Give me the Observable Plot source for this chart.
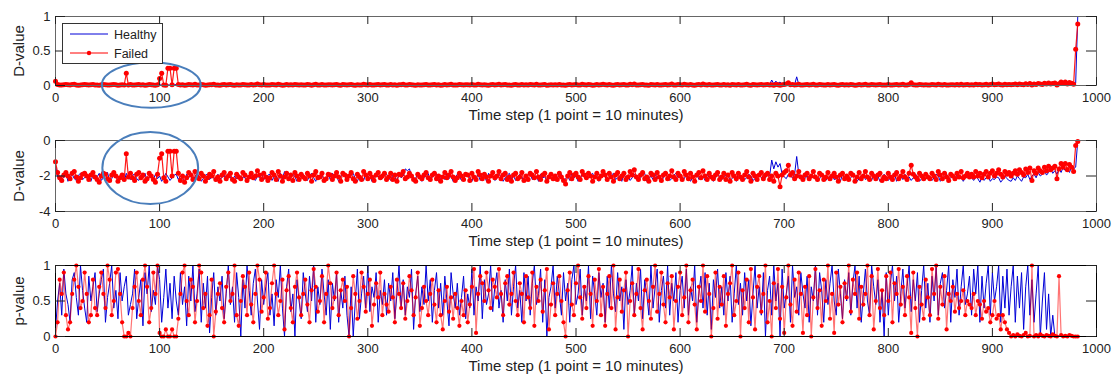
<!DOCTYPE html>
<html><head><meta charset="utf-8">
<script src="https://cdn.jsdelivr.net/npm/d3@7"></script>
<script src="https://cdn.jsdelivr.net/npm/@observablehq/plot@0.6"></script>
<style>
body{margin:0;background:#fff;}
#chart{position:relative;width:1117px;height:378px;font-family:"Liberation Sans",Arial,sans-serif;}
#chart > div{position:absolute;left:0;}
</style></head><body><div id="chart"></div>
<script>
// ---- data (time steps sampled every 2 points) ----
const timeStep = d3.range(0, 983, 2);
const xTicks = [0,100,200,300,400,500,600,700,800,900,1000];
const dTicks = [0,0.5,1];
const logTicks = [-4,-2,0];
const pTicks = [0,0.5,1];
const seriesNames = ["Healthy","Failed"];
const xTitle = "Time step (1 point = 10 minutes)";

// log10 D-value, healthy drive
const healthyLogD = [
-1.4,-2.05,-2.25,-1.95,-2.1,-1.85,-2.3,-2.05,-1.9,-2.15,-2.25,-1.95,-1.85,-2.2,-2.1,-1.9,-2.05,-2.3,-1.95,-2.15,
-2.05,-1.85,-2.25,-2.1,-1.95,-1.8,-2.3,-2.15,-1.9,-2.0,-2.25,-2.05,-1.95,-2.3,-1.85,-2.1,-2.2,-1.95,-1.9,-2.15,
-2.25,-1.95,-2.1,-1.85,-2.3,-2.05,-1.95,-2.2,-1.9,-2.15,-2.0,-2.3,-2.1,-1.85,-2.05,-2.25,-2.1,-1.95,-1.9,-2.2,
-2.0,-2.15,-2.3,-1.9,-2.1,-1.95,-2.25,-2.05,-1.85,-2.0,-2.3,-2.15,-1.95,-1.9,-2.2,-2.05,-2.1,-2.3,-1.9,-2.15,
-2.1,-1.95,-2.25,-1.85,-2.05,-2.3,-2.0,-2.15,-1.9,-2.25,-2.05,-2.1,-2.35,-1.95,-1.9,-2.15,-2.25,-2.0,-2.1,-1.85,
-2.2,-2.1,-1.95,-1.9,-2.25,-2.05,-2.0,-2.3,-1.85,-2.15,-1.75,-2.0,-2.25,-2.1,-1.9,-2.05,-2.3,-2.15,-1.95,-1.9,
-2.15,-2.25,-2.0,-1.85,-2.1,-2.3,-1.95,-2.05,-1.9,-2.25,-2.15,-1.95,-2.2,-1.85,-2.1,-2.0,-2.3,-2.05,-1.9,-2.0,
-2.25,-2.1,-1.95,-1.85,-2.15,-2.3,-2.0,-2.1,-2.25,-1.9,-2.05,-1.95,-2.3,-2.1,-1.85,-2.0,-2.2,-2.15,-1.95,-1.9,
-2.1,-2.25,-1.95,-2.05,-2.3,-1.85,-2.1,-2.0,-1.6,-1.7,-1.6,-2.0,-2.25,-2.1,-1.9,-2.05,-2.3,-2.1,-1.95,-1.85,
-2.25,-2.05,-1.95,-1.9,-2.3,-2.1,-2.0,-2.2,-1.85,-2.15,-2.0,-2.3,-2.1,-1.9,-2.05,-2.25,-2.15,-1.95,-1.85,-2.1,
-2.3,-2.0,-2.15,-1.9,-2.25,-2.05,-1.95,-2.3,-1.85,-2.1,-2.0,-2.25,-2.15,-1.9,-2.05,-2.3,-2.1,-1.95,-1.85,-2.15,
-2.0,-2.25,-2.1,-1.9,-2.05,-2.3,-2.15,-1.95,-1.85,-2.2,-2.1,-2.0,-2.3,-1.9,-2.1,-2.05,-2.25,-2.15,-1.9,-2.0,
-2.25,-2.1,-1.95,-1.9,-2.3,-2.15,-2.0,-2.25,-1.85,-2.1,-2.0,-2.3,-2.15,-1.9,-2.05,-2.2,-2.1,-1.95,-1.85,-2.15,
-2.0,-2.3,-2.1,-1.9,-2.05,-2.25,-2.15,-1.95,-1.85,-2.2,-2.1,-2.0,-2.3,-1.9,-2.1,-2.05,-2.25,-2.1,-1.9,-2.0,
-2.25,-2.1,-1.95,-1.85,-2.3,-2.1,-2.0,-2.2,-1.9,-2.15,-2.05,-2.3,-2.1,-1.9,-2.0,-2.25,-2.15,-1.95,-1.85,-2.1,
-2.0,-2.25,-2.15,-1.9,-2.05,-2.3,-2.1,-1.95,-1.85,-2.2,-2.1,-2.0,-2.25,-1.9,-2.1,-2.05,-2.3,-2.1,-1.9,-2.0,
-2.2,-2.1,-1.95,-1.9,-2.25,-2.15,-2.0,-2.3,-1.85,-2.1,-2.05,-2.2,-2.1,-1.9,-2.0,-2.25,-2.15,-1.95,-1.9,-2.1,
-2.0,-2.1,-1.9,-2.0,-1.1,-1.6,-1.2,-1.5,-1.3,-1.9,-2.05,-2.15,-1.9,-2.0,-2.1,-1.9,-0.9,-1.9,-2.1,-2.05,
-2.15,-2.0,-2.25,-1.9,-2.1,-2.05,-2.3,-2.15,-1.9,-2.0,-2.25,-2.1,-2.0,-1.9,-2.2,-2.15,-2.0,-2.3,-1.9,-2.1,
-2.0,-2.25,-2.1,-1.9,-2.05,-2.3,-2.15,-2.0,-1.9,-2.2,-2.1,-2.05,-2.25,-1.9,-2.1,-2.0,-2.3,-2.1,-1.9,-2.05,
-2.25,-2.1,-2.0,-1.9,-2.3,-2.15,-2.0,-2.2,-1.9,-2.1,-2.05,-2.25,-2.1,-1.9,-2.0,-2.3,-2.15,-2.0,-1.9,-2.1,
-2.05,-2.25,-2.1,-1.9,-2.0,-2.3,-2.15,-2.05,-1.9,-2.2,-2.1,-2.0,-2.25,-1.9,-2.1,-2.05,-2.3,-2.1,-1.95,-2.05,
-2.1,-2.25,-2.05,-2.15,-2.35,-2.05,-2.25,-2.1,-2.0,-2.3,-2.15,-2.2,-2.05,-2.1,-2.35,-2.2,-2.0,-2.15,-2.25,-2.3,
-2.1,-2.25,-2.0,-2.15,-2.3,-2.05,-2.1,-1.9,-2.2,-2.0,-1.9,-2.1,-1.8,-2.0,-1.9,-1.7,-1.95,-1.8,-1.6,-1.85,
-1.7,-1.9,-1.6,-1.8,-1.5,-1.7,-1.6,-1.8,-1.5,-1.6,-1.5,0
];

// log10 D-value, failed drive
const failedLogD = [
-1.2,-1.8,-2.1,-2.25,-1.95,-1.8,-2.0,-2.15,-1.85,-1.75,-2.05,-2.3,-2.1,-1.9,-1.85,-2.0,-2.2,-1.95,-1.8,-2.05,
-2.2,-2.35,-2.0,-1.85,-1.9,-2.15,-2.25,-1.95,-1.8,-2.0,-2.3,-2.1,-1.95,-2.2,-0.75,-2.05,-1.85,-2.1,-2.25,-1.9,
-1.8,-2.1,-1.95,-2.3,-2.15,-1.85,-2.0,-2.2,-2.35,-1.9,-1.0,-0.75,-2.1,-2.3,-0.6,-0.6,-2.0,-0.6,-0.6,-1.85,
-2.25,-2.0,-2.35,-2.1,-1.8,-1.95,-2.2,-1.75,-2.05,-2.15,-1.85,-2.0,-2.3,-2.1,-1.9,-2.0,-1.75,-2.2,-2.05,-2.3,
-1.95,-1.8,-2.15,-2.0,-1.85,-2.2,-2.3,-1.9,-2.05,-2.15,-1.8,-1.95,-2.25,-2.05,-1.85,-2.1,-2.0,-1.7,-1.95,-2.2,
-1.85,-2.05,-2.25,-2.1,-1.8,-1.95,-2.2,-1.75,-2.0,-2.3,-2.05,-1.85,-2.15,-1.95,-2.25,-1.8,-2.0,-2.2,-1.9,-2.05,
-2.15,-1.85,-2.0,-2.3,-1.95,-1.75,-2.1,-2.05,-1.85,-2.25,-2.15,-1.9,-1.95,-2.2,-2.0,-1.8,-2.05,-2.3,-1.85,-1.95,
-2.2,-2.0,-1.8,-2.15,-2.3,-1.9,-2.05,-2.2,-1.75,-1.95,-2.15,-1.85,-2.05,-2.25,-1.95,-1.8,-2.1,-2.0,-1.85,-2.2,
-2.05,-1.85,-2.2,-1.95,-2.3,-1.9,-1.95,-1.75,-2.15,-2.05,-1.85,-2.0,-2.2,-2.3,-1.9,-2.05,-2.15,-1.95,-1.8,-2.1,
-2.2,-1.95,-1.85,-2.15,-2.0,-2.3,-2.05,-1.8,-2.1,-1.95,-1.75,-2.05,-2.25,-2.1,-1.85,-2.0,-2.2,-1.9,-1.95,-2.25,
-1.85,-2.05,-2.2,-1.75,-1.95,-2.15,-1.9,-2.05,-2.3,-2.0,-1.8,-2.1,-2.0,-1.75,-2.15,-1.95,-1.85,-2.2,-2.05,-2.3,
-1.95,-1.85,-2.15,-2.05,-1.8,-2.25,-2.0,-2.2,-1.85,-1.95,-2.1,-1.75,-2.05,-2.2,-1.95,-1.85,-2.3,-2.05,-1.9,-2.15,
-2.0,-2.2,-1.85,-2.05,-2.25,-2.45,-2.0,-1.8,-2.15,-1.95,-1.85,-2.05,-2.2,-1.75,-1.95,-2.1,-1.85,-2.0,-2.3,-2.05,
-1.85,-2.15,-2.0,-1.75,-1.95,-2.2,-1.85,-2.05,-2.3,-1.95,-1.8,-2.15,-2.0,-1.85,-2.2,-2.05,-1.75,-1.95,-1.65,-2.05,
-2.2,-1.95,-1.8,-2.15,-2.05,-2.3,-1.85,-1.95,-2.2,-1.8,-2.05,-2.25,-1.95,-1.85,-2.15,-2.0,-1.7,-2.05,-2.2,-1.85,
-2.0,-2.2,-1.75,-1.95,-2.15,-1.85,-2.05,-2.3,-1.95,-1.8,-2.1,-1.7,-2.0,-2.2,-1.85,-2.05,-2.15,-1.95,-1.8,-2.2,
-2.05,-1.85,-2.2,-1.95,-2.3,-1.8,-2.0,-2.15,-1.85,-2.05,-2.2,-1.95,-1.75,-2.05,-2.3,-1.85,-2.0,-2.2,-1.95,-1.8,
-2.15,-1.95,-1.85,-2.2,-2.0,-2.3,-1.85,-2.0,-2.6,-1.95,-1.8,-1.7,-1.4,-1.95,-1.8,-2.15,-2.0,-1.75,-2.05,-2.2,
-1.95,-1.85,-2.15,-2.0,-1.75,-2.05,-2.2,-1.85,-1.95,-2.2,-2.05,-1.8,-2.15,-2.0,-1.85,-2.05,-2.3,-1.95,-1.85,-2.15,
-2.0,-2.2,-1.85,-1.95,-2.3,-2.05,-1.8,-2.15,-2.0,-1.75,-2.05,-2.2,-1.85,-2.0,-2.15,-1.95,-1.85,-2.25,-2.05,-2.15,
-1.85,-2.05,-2.2,-1.95,-1.8,-2.15,-2.0,-1.75,-2.05,-2.2,-1.85,-1.4,-1.9,-2.05,-2.2,-1.85,-2.0,-2.15,-1.9,-2.05,
-2.15,-1.85,-2.0,-2.2,-1.75,-1.95,-2.15,-1.85,-2.05,-2.25,-1.9,-2.0,-2.15,-1.85,-2.05,-1.75,-2.1,-2.0,-1.85,-2.05,
-1.9,-2.05,-1.75,-2.0,-1.85,-2.1,-1.9,-1.75,-2.05,-1.85,-1.7,-2.0,-1.85,-1.65,-1.9,-2.05,-1.75,-1.9,-1.8,-2.0,
-1.85,-1.7,-1.9,-1.65,-1.8,-1.95,-1.6,-1.8,-1.55,-2.25,-1.7,-1.85,-1.55,-1.7,-1.8,-1.5,-1.7,-1.45,-1.65,-1.55,
-1.45,-2.15,-1.6,-1.3,-1.5,-1.3,-1.65,-1.35,-1.5,-1.75,-0.28,-0.05
];

// p-value, healthy drive
const healthyP = [
.1,.5,.75,.3,.95,.6,.45,.2,.8,.9,.55,.3,1,.65,.4,.2,.85,.5,.7,.9,
.35,.6,.8,.95,.2,.55,.75,1,.4,.65,.25,.9,.5,.7,.85,.3,.45,.6,.95,.25,
.55,.8,.15,.9,.6,1,.35,.65,.45,1,.8,.2,.55,.95,.4,.75,.25,.85,.5,.3,
.9,.45,.7,.15,.85,.5,1,.35,.6,.95,.2,.75,.4,.85,.05,.55,.9,.3,.7,.5,
.85,.25,.6,1,.45,.7,.2,.9,.55,0,.8,.4,1,.65,.3,.75,.95,.5,.1,.8,
.45,.7,.9,.3,.6,.15,.8,.55,1,.4,0,.7,.95,.35,.6,0,.8,.5,.25,.9,
.6,.35,.85,.5,1,.2,.7,.45,.95,.6,.3,.8,.1,.75,.5,.9,.2,.65,.4,.85,
.3,0,.7,0,.5,.95,.25,.6,.85,.4,1,.35,.7,.55,.9,.2,.65,.45,.8,.3,
.75,.5,.9,.25,.6,1,.4,.8,.3,.7,.55,.95,.1,.6,.85,.35,.7,.45,1,.5,
.8,.2,.65,.9,.4,.75,.3,.85,.5,.15,.9,.6,.4,.75,.3,.55,.85,.25,.6,.4,
.95,.3,.7,.5,1,.25,.8,.45,.6,1,.35,.7,.9,.4,.65,.2,.8,.5,.95,.3,
.7,1,.4,.65,.2,.9,.5,.85,.3,.75,1,.45,.6,.95,.2,.8,0,.55,.7,1,
.4,.85,.6,.3,.9,.5,.75,.2,.8,1,.45,.6,.95,.3,.7,.5,1,.25,.85,.6,
.3,.9,.55,.75,.2,.85,.4,1,.6,.35,.9,.5,.7,.1,.8,.45,.65,1,.3,.75,
.5,.95,.25,.8,.6,.3,1,.4,.7,.95,.2,.65,.85,.4,1,.3,.75,.5,.9,.2,
.65,.85,.4,.95,.3,.7,.5,1,.2,.6,.85,.4,.9,.3,.75,.1,.8,.55,.95,.4,
.7,.3,.9,.5,.85,.2,.6,1,.45,.75,.3,.9,.5,.8,.15,.6,1,.4,.7,.3,
.9,0,.65,.85,.3,1,.5,.75,0,.95,.4,.6,.85,.2,1,.55,.7,.3,.9,.6,
.4,.85,.2,.7,.5,1,.3,.9,.65,.2,.8,.45,.75,1,.5,.3,.95,.6,.25,.8,
.5,.9,.3,.75,1,.4,.85,.2,.6,.95,.5,.3,1,.7,.45,.8,.2,.65,0,.9,
.3,.75,1,.5,.85,.2,.6,.95,.4,.7,1,.35,.8,.5,.9,.2,.65,1,.4,.75,
.2,.85,.5,1,.3,.75,.9,.4,.65,1,.2,.8,.55,.95,.3,.7,1,.45,.6,.85,
.3,.95,.6,1,.2,.85,.4,.75,1,.3,.9,.5,.7,1,.2,.85,.4,.95,.3,.7,
1,.2,.85,.4,.9,.1,.7,1,.3,.8,.2,.6,1,0,.5,.9,.1,.6,0,.3,
0,0,.01,0,0,0,.01,0,0,0,0,0
];

// p-value, failed drive
const failedP = [
0,.2,.8,.6,.9,.3,.1,.2,.6,.8,1,.7,.4,.5,.9,.6,.2,.3,.8,.4,
.3,.7,.9,.6,.4,1,.8,.3,.5,.9,.95,.6,.2,0,0,.05,0,.4,.7,.9,
.5,.3,.8,1,.7,.2,.4,.9,.6,1,.05,0,0,.1,0,0,.1,0,0,.25,
.6,.9,1,.5,.3,.8,.7,.2,.5,1,.9,.4,.6,.15,.3,.8,0,.35,.6,.75,
.4,.2,.7,.9,.5,.6,1,.3,.15,.5,.85,.7,.3,.9,.45,.2,.6,1,.8,.35,
.55,.9,.25,.4,.75,1,.6,.3,.5,.8,.1,.65,.85,.4,.2,.7,.9,.55,.3,.6,
.8,.45,.2,.65,.95,.7,.35,.5,.85,.2,.6,1,.75,.4,.55,.9,.3,.65,.8,.5,
.7,0,.4,.85,.6,.25,.5,.9,.7,.35,.6,.8,.15,.45,.75,.55,.9,.3,.6,.45,
.35,.7,.55,.2,.8,.6,.4,.75,.25,.5,.85,.65,.3,.55,.9,.15,.4,.7,.5,.3,
.6,.8,.45,.2,.65,.3,.1,.5,.7,.35,.55,.25,.6,.4,.15,.5,.3,.65,.2,.45,
.7,.95,.05,.6,.85,.75,.5,.9,.65,.4,.8,.7,.55,.95,.6,.3,.75,.85,.45,.6,
.9,.5,.3,.75,.6,.2,.85,.55,.4,.9,.15,.7,.5,.8,.35,.65,.95,.1,.45,.75,
.3,.6,.85,.5,.2,0,.65,.9,.45,.3,.75,1,.55,.25,.7,.4,.85,.6,.15,.8,
.5,.95,.3,.7,.15,.6,.85,.4,1,.1,.55,.8,.35,.65,.9,0,.5,.75,.3,.6,
.95,.4,.1,.65,.8,.5,.25,.7,1,.35,.6,.9,.45,.2,.75,.55,.85,.1,.5,.7,
.9,.3,.55,1,.2,.65,.8,.45,.1,.7,.5,1,.35,.85,.6,0,.4,.9,.25,.7,
.45,.85,.15,.6,.75,1,.3,.5,.9,0,.65,.4,.8,.2,.95,.55,.1,.7,.85,.35,
.6,1,.2,.5,0,.75,.4,.95,.25,.7,.05,.55,1,.45,.15,.8,.35,.9,.6,.05,
.7,.3,.85,0,.55,.95,.4,.65,.15,.8,.5,1,.25,.6,.05,.9,.45,.7,.2,.75,
.55,1,.35,.8,.6,.9,.25,.7,.45,.6,1,.3,.85,.1,.5,.95,.4,.65,.3,.85,
.5,.9,.2,.75,.6,.95,.45,.7,.3,.85,.55,.05,.9,.4,0,.7,.45,.25,.8,.55,
.3,.95,.6,1,.25,.7,.45,.85,.1,.6,.5,.7,.35,.6,.4,.5,.65,.3,.5,.45,
.4,.6,.3,.5,.45,.25,.5,.35,.4,.2,.3,.5,.25,.3,.1,.3,.2,.1,.05,0,
.02,0,.03,.01,0,.02,.05,0,.01,1,0,.02,0,.03,.01,0,.02,.01,0,.03,
.01,0,.85,.02,0,.01,0,.02,.01,0,0,0
];

// highlighted regions (data coordinates)
const highlightTop = {x: 92.5, y: 0, rx: 47.5, ry: 0.33};
const highlightMid = {x: 91.5, y: -1.58, rx: 46, ry: 2.03};

// ---- table ----
const rows = timeStep.map((t, i) => ({
  t,
  hD: Math.pow(10, healthyLogD[i]), fD: Math.pow(10, failedLogD[i]),
  hL: healthyLogD[i], fL: failedLogD[i],
  hP: healthyP[i], fP: failedP[i]
}));

const W = 1117, ML = 55, MR = 21;
const BLUE = "#0000d8", RED = "#ff0000", INK = "#222";

function panel({top, height, mt, mb, yDomain, yTicks, hKey, fKey, yLabel, frameColor, lineOpacity, dotR}) {
  const fh = height - mt - mb, fw = W - ML - MR;
  const plot = Plot.plot({
    width: W, height, marginTop: mt, marginBottom: mb, marginLeft: ML, marginRight: MR,
    x: {domain: [0, 1000]},
    y: {domain: yDomain},
    style: {fontFamily: '"Liberation Sans", Arial, sans-serif', fontSize: "13px", color: INK, background: "white", overflow: "visible"},
    marks: [
      Plot.line(rows, {x: "t", y: hKey, stroke: BLUE, strokeWidth: 1}),
      Plot.line(rows, {x: "t", y: fKey, stroke: RED, strokeWidth: 1.2, strokeOpacity: lineOpacity}),
      Plot.dot(rows, {x: "t", y: fKey, r: dotR, fill: RED, stroke: "none"}),
      Plot.frame({stroke: frameColor}),
      Plot.ruleX(xTicks, {x: d => d, insetBottom: fh - 8, stroke: INK}),
      Plot.ruleX(xTicks, {x: d => d, insetTop: fh - 8, stroke: INK}),
      Plot.ruleY(yTicks, {y: d => d, insetRight: fw - 10, stroke: INK}),
      Plot.ruleY(yTicks, {y: d => d, insetLeft: fw - 10, stroke: INK}),
      Plot.axisX({ticks: xTicks, tickSize: 0, tickPadding: 7, tickFormat: d => String(d), label: null, fontSize: 13}),
      Plot.axisY({ticks: yTicks, tickSize: 0, tickPadding: 5, tickFormat: d => String(d), label: null, fontSize: 13}),
      Plot.text([xTitle], {text: d => d, frameAnchor: "bottom", lineAnchor: "middle", textAnchor: "middle", dy: 30, fontSize: 15, fill: INK}),
      Plot.text([yLabel], {text: d => d, frameAnchor: "left", lineAnchor: "middle", textAnchor: "middle", dx: -36, rotate: -90, fontSize: 15, fill: INK})
    ]
  });
  const wrap = document.createElement("div");
  wrap.style.top = top + "px";
  wrap.appendChild(plot);
  document.getElementById("chart").appendChild(wrap);
  return plot;
}

function addEllipse(plot, h) {
  const sx = plot.scale("x"), sy = plot.scale("y");
  const cx = sx.apply(h.x), cy = sy.apply(h.y);
  d3.select(plot).append("ellipse")
    .attr("cx", cx).attr("cy", cy)
    .attr("rx", Math.abs(sx.apply(h.x + h.rx) - cx))
    .attr("ry", Math.abs(sy.apply(h.y + h.ry) - cy))
    .attr("fill", "none").attr("stroke", "#4a7ebb").attr("stroke-width", 2);
}

const p1 = panel({top: 0, height: 126, mt: 16, mb: 41, yDomain: [0, 1], yTicks: dTicks, hKey: "hD", fKey: "fD", yLabel: "D-value", frameColor: "#666", lineOpacity: 0.9, dotR: 2.5});
const p2 = panel({top: 126, height: 126, mt: 14, mb: 41, yDomain: [-4, 0], yTicks: logTicks, hKey: "hL", fKey: "fL", yLabel: "D-value", frameColor: "#666", lineOpacity: 0.9, dotR: 2.5});
const p3 = panel({top: 252, height: 126, mt: 13, mb: 42, yDomain: [0, 1], yTicks: pTicks, hKey: "hP", fKey: "fP", yLabel: "p-value", frameColor: "#000", lineOpacity: 0.55, dotR: 2.1});

addEllipse(p1, highlightTop);
addEllipse(p2, highlightMid);

// legend (top panel)
const lg = d3.select(p1).append("g").attr("font-size", 12.5).attr("fill", INK).attr("text-anchor", "start");
lg.append("rect").attr("x", 62.5).attr("y", 23.5).attr("width", 100).attr("height", 40)
  .attr("fill", "white").attr("stroke", "#333");
lg.append("line").attr("x1", 70).attr("x2", 108).attr("y1", 34).attr("y2", 34).attr("stroke", BLUE);
lg.append("line").attr("x1", 70).attr("x2", 108).attr("y1", 53).attr("y2", 53).attr("stroke", RED);
lg.append("circle").attr("cx", 89).attr("cy", 53).attr("r", 2.2).attr("fill", RED);
lg.append("text").attr("x", 114).attr("y", 38.5).attr("text-anchor", "start").text(seriesNames[0]);
lg.append("text").attr("x", 114).attr("y", 57.5).attr("text-anchor", "start").text(seriesNames[1]);
</script></body></html>
